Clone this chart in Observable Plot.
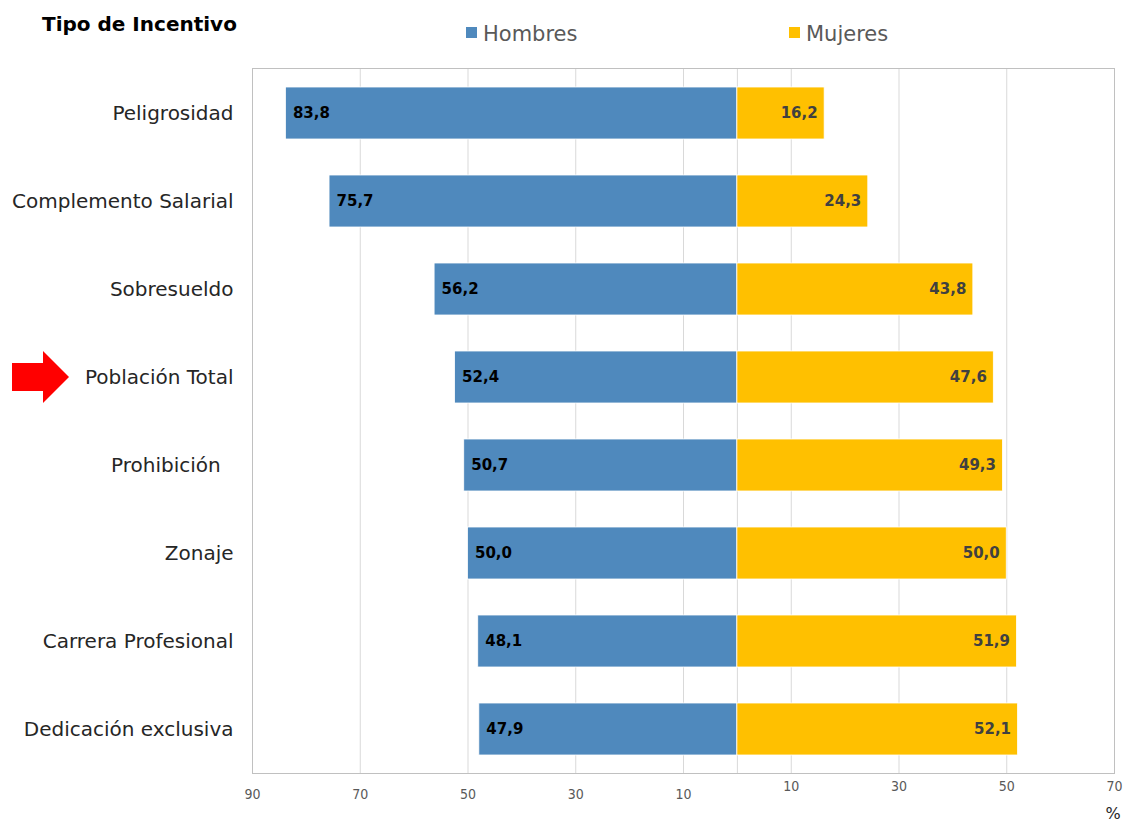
<!DOCTYPE html>
<html><head><meta charset="utf-8">
<script src="https://cdn.jsdelivr.net/npm/d3@7"></script>
<script src="https://cdn.jsdelivr.net/npm/@observablehq/plot@0.6"></script>
<style>
body{margin:0;background:#fff}
#chart{position:relative;width:1124px;height:823px;overflow:hidden}
</style>
</head><body><div id="chart"></div>
<script>
const categories = ["Peligrosidad","Complemento Salarial","Sobresueldo","Población Total","Prohibición  ","Zonaje","Carrera Profesional","Dedicación exclusiva"];
const hombres = [83.8,75.7,56.2,52.4,50.7,50.0,48.1,47.9];
const mujeres = [16.2,24.3,43.8,47.6,49.3,50.0,51.9,52.1];
const seriesNames = ["Hombres","Mujeres"];
const seriesColors = ["#4F89BD","#FFC000"];
const xTicksLeft = [-90,-70,-50,-30,-10];
const xTicksRight = [10,30,50,70];
const title = "Tipo de Incentivo";
const unitLabel = "%";
const highlighted = "Población Total";

const rows = categories.flatMap((c,i)=>[
  {cat:c, sexo:seriesNames[0], v:-hombres[i], val:hombres[i]},
  {cat:c, sexo:seriesNames[1], v:mujeres[i], val:mujeres[i]}
]);
const fmt = d => d.toFixed(1).replace(".", ",");
const font = "'DejaVu Sans', sans-serif";

const plot = Plot.plot({
  width:1124, height:823,
  marginLeft:252, marginRight:10, marginTop:68, marginBottom:50,
  x:{domain:[-90,70]},
  y:{domain:categories, paddingInner:0.41, paddingOuter:0.205},
  color:{domain:seriesNames, range:seriesColors},
  style:{fontFamily:font, background:"white", color:"#262626"},
  marks:[
    Plot.gridX([...xTicksLeft,0,...xTicksRight],{stroke:"#d9d9d9", strokeOpacity:1}),
    Plot.frame({stroke:"#c0c0c0"}),
    Plot.barX(rows,{x:"v", y:"cat", fill:"sexo", stroke:"#ffffff", strokeWidth:0.8}),
    Plot.text(rows.filter(d=>d.sexo===seriesNames[0]),{x:"v", y:"cat", text:d=>fmt(d.val), textAnchor:"start", dx:7, fontSize:15, fontWeight:"bold", fill:"#000000"}),
    Plot.text(rows.filter(d=>d.sexo===seriesNames[1]),{x:"v", y:"cat", text:d=>fmt(d.val), textAnchor:"end", dx:-7, fontSize:15, fontWeight:"bold", fill:"#404040", fontStretch:"condensed"}),
    Plot.axisY({tickSize:0, tickPadding:19, fontSize:20, label:null, fill:"#262626", tickFormat:d=>d.replace(/ /g,"\u00a0")}),
    Plot.axisX({ticks:xTicksLeft, tickSize:0, tickPadding:16, fontSize:14, label:null, tickFormat:d=>Math.abs(d), fill:"#595959"}),
    Plot.axisX({ticks:xTicksRight, tickSize:0, tickPadding:8, fontSize:14, label:null, tickFormat:d=>Math.abs(d), fill:"#595959"})
  ]
});
document.getElementById("chart").appendChild(plot);

const svg = d3.select(plot);
svg.selectAll("g[aria-label='x-axis tick label'] text").style("font-stretch","condensed");
// title
svg.append("text").attr("x",42).attr("y",31).attr("text-anchor","start").attr("font-family",font).attr("font-size",20).attr("font-weight","bold").attr("fill","#000").text(title);
// legend
const legendX = [466, 789];
seriesNames.forEach((s,i)=>{
  svg.append("rect").attr("x",legendX[i]).attr("y",27).attr("width",11).attr("height",11).attr("fill",seriesColors[i]);
  svg.append("text").attr("x",legendX[i]+17).attr("y",41).attr("text-anchor","start").attr("font-family",font).attr("font-size",21).attr("fill","#595959").text(s);
});
// unit
svg.append("text").attr("x",1113).attr("y",819).attr("text-anchor","middle").attr("font-family",font).attr("font-size",16).attr("fill","#262626").text(unitLabel);
// arrow pointing at highlighted category
const yScale = plot.scale("y");
const yc = yScale.apply(highlighted) + yScale.bandwidth/2;
svg.append("path")
  .attr("d",`M12,${yc-14} L43,${yc-14} L43,${yc-26} L69,${yc} L43,${yc+26} L43,${yc+14} L12,${yc+14} Z`)
  .attr("fill","#ff0000");
</script>
</body></html>
